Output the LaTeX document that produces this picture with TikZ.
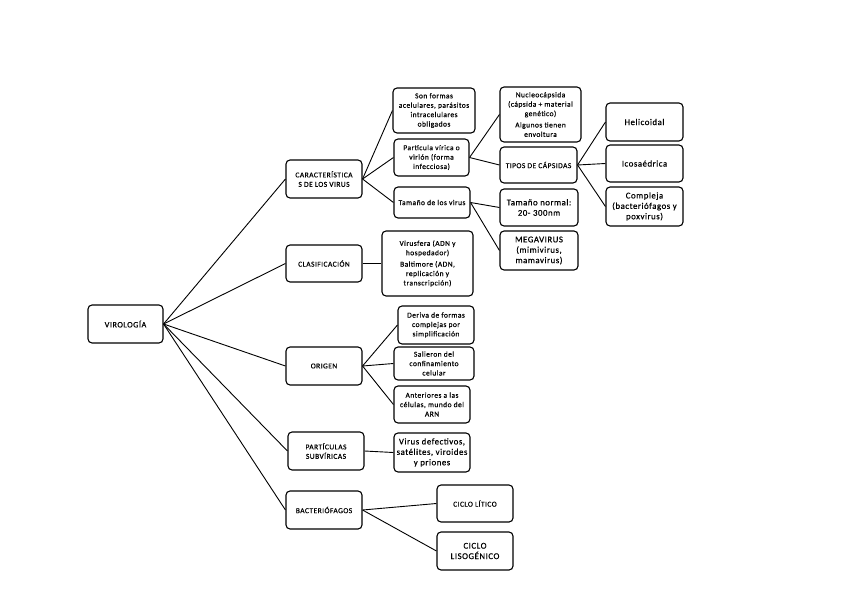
\documentclass[tikz,border=0pt]{standalone}
\usepackage{fontspec}
\setmainfont{Carlito}
\newfontfamily\lsfont[LetterSpace=6,FakeBold=0.4]{Carlito}
\begin{document}
\begin{tikzpicture}[x=1pt,y=-1pt,
  bx/.style={draw=black,line width=1.1pt,rounded corners=4pt,align=center,inner sep=1pt,
    font=\lsfont\fontsize{7.5}{9.4}\selectfont},
  big/.style={font=\lsfont\fontsize{8.8}{10.4}\selectfont},
  ln/.style={draw=black,line width=0.9pt}]
\useasboundingbox (0,0) rectangle (848,599);
% level 0 and 1
\node[bx,minimum width=75pt,minimum height=38pt,font=\lsfont\fontsize{8.3}{10}\selectfont] (viro) at (125.5,324) {VIROLOGÍA};
\node[bx,minimum width=76pt,minimum height=38pt] (car) at (324,179) {CARACTERÍSTICA\\S DE LOS VIRUS};
\node[bx,minimum width=76pt,minimum height=37pt] (clas) at (324,263.5) {CLASIFICACIÓN};
\node[bx,minimum width=76pt,minimum height=38pt] (orig) at (324,366) {ORIGEN};
\node[bx,minimum width=76pt,minimum height=38pt] (part) at (326,451) {PARTÍCULAS\\SUBVÍRICAS};
\node[bx,minimum width=76pt,minimum height=38pt] (bact) at (324,510) {BACTERIÓFAGOS};
% level 2
\node[bx,minimum width=82pt,minimum height=45pt] (son) at (434,110.5) {Son formas\\acelulares, parásitos\\intracelulares\\obligados};
\node[bx,minimum width=75pt,minimum height=37pt] (partv) at (431.5,157.5) {Partícula vírica o\\virión (forma\\infecciosa)};
\node[bx,minimum width=76pt,minimum height=31pt] (tam) at (432,202.5) {Tamaño de los virus};
\node[bx,minimum width=91pt,minimum height=65pt] (clasb) at (427.5,263.5) {Virusfera (ADN y\\hospedador)\\[2pt]Baltimore (ADN,\\replicación y\\transcripción)};
\node[bx,minimum width=76pt,minimum height=38pt] (der) at (436,325) {Deriva de formas\\complejas por\\simplificación};
\node[bx,minimum width=80pt,minimum height=33pt] (sal) at (434,363.5) {Salieron del\\confinamiento\\celular};
\node[bx,minimum width=76pt,minimum height=37pt] (ant) at (432,404.5) {Anteriores a las\\células, mundo del\\ARN};
\node[bx,big,minimum width=76pt,minimum height=39pt] (vdef) at (432,452.5) {Virus defectivos,\\satélites, viroides\\y priones};
\node[bx,minimum width=76pt,minimum height=37pt] (lit) at (475,503.5) {CICLO LÍTICO};
\node[bx,big,minimum width=76pt,minimum height=38pt] (liso) at (475,551) {CICLO\\LISOGÉNICO};
% level 3
\node[bx,minimum width=81pt,minimum height=55pt] (nucl) at (540.5,114.5) {Nucleocápsida\\(cápsida + material\\genético)\\[2pt]Algunos tienen\\envoltura};
\node[bx,minimum width=77pt,minimum height=36pt] (tipos) at (538.5,165) {TIPOS DE CÁPSIDAS};
\node[bx,big,minimum width=78pt,minimum height=37pt] (tn) at (539,207.5) {Tamaño normal:\\20- 300nm};
\node[bx,big,minimum width=78pt,minimum height=39pt] (mega) at (539,250.5) {MEGAVIRUS\\(mimivirus,\\mamavirus)};
\node[bx,big,minimum width=77pt,minimum height=38pt] (hel) at (644.5,122) {Helicoidal};
\node[bx,big,minimum width=77pt,minimum height=37pt] (ico) at (644.5,163.5) {Icosaédrica};
\node[bx,big,minimum width=77pt,minimum height=39pt] (comp) at (644.5,206.5) {Compleja\\(bacteriófagos y\\poxvirus)};
% connectors
\foreach \t in {car,clas,orig,part,bact} \draw[ln] (viro.east) -- (\t.west);
\foreach \t in {son,partv,tam} \draw[ln] (car.east) -- (\t.west);
\foreach \t in {nucl,tipos} \draw[ln] (partv.east) -- (\t.west);
\foreach \t in {tn,mega} \draw[ln] (tam.east) -- (\t.west);
\foreach \t in {hel,ico,comp} \draw[ln] (tipos.east) -- (\t.west);
\draw[ln] (clas.east) -- (clasb.west);
\foreach \t in {der,sal,ant} \draw[ln] (orig.east) -- (\t.west);
\draw[ln] (part.east) -- (vdef.west);
\foreach \t in {lit,liso} \draw[ln] (bact.east) -- (\t.west);
\end{tikzpicture}
\end{document}
